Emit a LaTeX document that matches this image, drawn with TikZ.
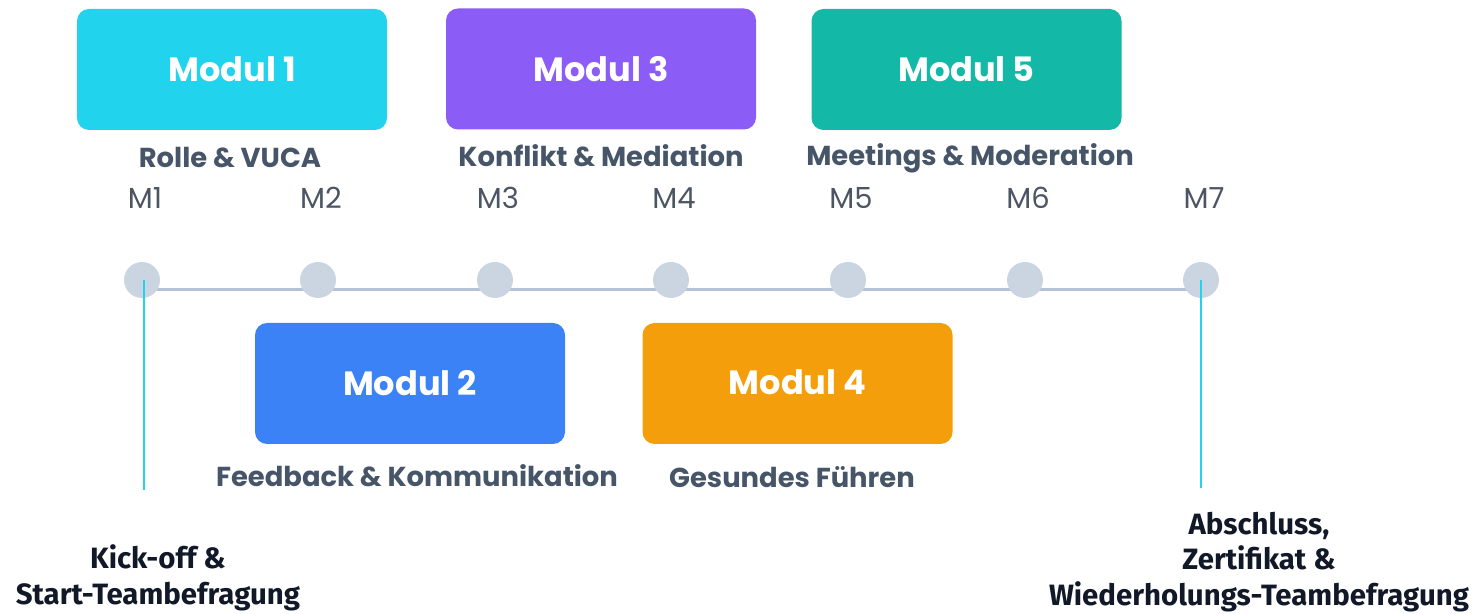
\documentclass[tikz,border=0pt]{standalone}
\usepackage{fontspec}
\setmainfont{Poppins}
\newfontfamily\labelfont{Fira Sans}
\definecolor{modcyan}{HTML}{22D3EE}
\definecolor{modviolet}{HTML}{8B5CF6}
\definecolor{modteal}{HTML}{14B8A6}
\definecolor{modblue}{HTML}{3B82F6}
\definecolor{modamber}{HTML}{F59E0B}
\definecolor{captiongray}{HTML}{475569}
\definecolor{mgray}{HTML}{4B5563}
\definecolor{dotgray}{HTML}{CBD5E1}
\definecolor{linegray}{HTML}{B4C2D3}
\definecolor{darknavy}{HTML}{111827}
\begin{document}
\begin{tikzpicture}[x=0.5pt,y=-0.5pt,
	modbox/.style={rounded corners=6pt, minimum width=155pt, minimum height=60.5pt,
		text=white, font=\fontsize{16.8}{18}\selectfont\bfseries, inner sep=0pt},
	caption/.style={text=captiongray, font=\fontsize{13.7}{15}\selectfont\bfseries},
	mlabel/.style={text=mgray, font=\fontsize{14.5}{16}\selectfont},
	dot/.style={circle, fill=dotgray, minimum size=18pt, inner sep=0pt},
	endlabel/.style={text=darknavy, align=center, font=\labelfont\fontsize{14.7}{17.8}\selectfont\bfseries},
	tick/.style={modcyan, line width=1.2pt}]
	\useasboundingbox (0,0) rectangle (1478,614);
	% Modules above the line
	\node[modbox, fill=modcyan]   (mod1) at (232,69.5) {Modul 1};
	\node[modbox, fill=modviolet] (mod3) at (601,69)   {Modul 3};
	\node[modbox, fill=modteal]   (mod5) at (966.5,69.5) {\raisebox{-1.5pt}{Modul 5}};
	% Modules below the line
	\node[modbox, fill=modblue]   (mod2) at (410,383.5) {Modul 2};
	\node[modbox, fill=modamber]  (mod4) at (797.5,383.5) {\raisebox{1pt}{Modul 4}};
	% Captions
	\node[caption] (cap1) at (230,158) {Rolle \& VUCA};
	\node[caption] (cap3) at (601,156) {Konflikt \& Mediation};
	\node[caption] (cap5) at (970,158) {Meetings \& Moderation};
	\node[caption] (cap2) at (417,476) {Feedback \& Kommunikation};
	\node[caption] (cap4) at (792,477) {Gesundes Führen};
	% Timeline
	\coordinate (lstart) at (142,290);
	\coordinate (lend) at (1201,290);
	\draw[linegray, line width=1.5pt] (lstart) -- (lend);
	\foreach \i/\x in {1/142,2/318,3/495,4/671,5/848,6/1025,7/1201} {
		\node[dot] (dot\i) at (\x,280) {};
		\node[mlabel] (m\i) at (\x+3,198) {M\i};
	}
	% Start and end markers
	\coordinate (kick) at (144,490);
	\coordinate (final) at (1201,488);
	\draw[tick] (dot1.center) ++(1pt,0) coordinate (d1) (d1) -- (kick);
	\draw[tick] (dot7.center) -- (final);
	\node[endlabel] (start) at (158,578) {Kick-off \&\\Start-Teambefragung};
	\node[endlabel] (finish) at (1259,562) {Abschluss,\\Zertifikat \&\\Wiederholungs-Teambefragung};
\end{tikzpicture}
\end{document}
